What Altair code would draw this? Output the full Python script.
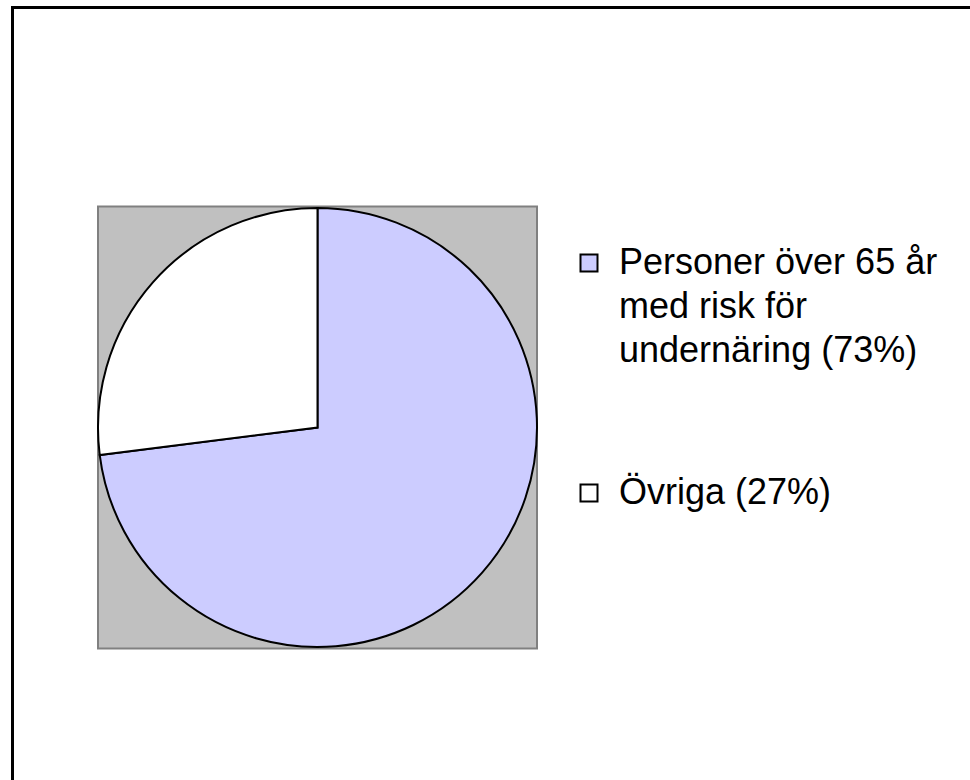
import altair as alt
import pandas as pd

categories = ["Personer över 65 år|med risk för|undernäring (73%)", "Övriga (27%)"]
shares = [73, 27]
colors = ["#CCCCFF", "#FFFFFF"]

df = pd.DataFrame({"kategori": categories, "andel": shares, "ordning": [0, 1]})

one = alt.Data(values=[{"a": 1}])

frame_top = alt.Chart(one).mark_rule(color="black", strokeWidth=3).encode(
    x=alt.value(11), x2=alt.value(975), y=alt.value(7.5)
)
frame_left = alt.Chart(one).mark_rule(color="black", strokeWidth=3).encode(
    x=alt.value(12.5), y=alt.value(6), y2=alt.value(790)
)
plot_bg = alt.Chart(one).mark_rect(fill="#C0C0C0", stroke="#808080", strokeWidth=2).encode(
    x=alt.value(98), x2=alt.value(537), y=alt.value(206.5), y2=alt.value(648.5)
)

pie = alt.Chart(df).mark_arc(outerRadius=219.5, stroke="black", strokeWidth=2).encode(
    theta=alt.Theta("andel:Q", stack=True),
    order=alt.Order("ordning:Q"),
    color=alt.Color(
        "kategori:N",
        sort=categories,
        scale=alt.Scale(domain=categories, range=colors),
        legend=alt.Legend(
            title=None,
            orient="none",
            legendX=571,
            legendY=245,
            padding=0,
            symbolType="square",
            symbolSize=289,
            symbolStrokeColor="black",
            symbolStrokeWidth=2,
            symbolFillColor="white",
            labelFont="Liberation Sans",
            labelFontSize=36,
            labelColor="black",
            labelLimit=0,
            labelOffset=12,
            labelBaseline="top",
            labelExpr="split(datum.label, '|')",
            rowPadding=106,
        ),
    ),
    x=alt.value(317.5),
    y=alt.value(427.5),
)

chart = (
    alt.layer(frame_top, frame_left, plot_bg, pie)
    .properties(width=970, height=780, padding=0, autosize="none", background="white")
    .configure(style={"guide-label": {"lineHeight": 44, "dy": -17}})
    .configure_view(stroke=None)
)

chart.save("out.html", embed_options={"renderer": "svg", "actions": False})
